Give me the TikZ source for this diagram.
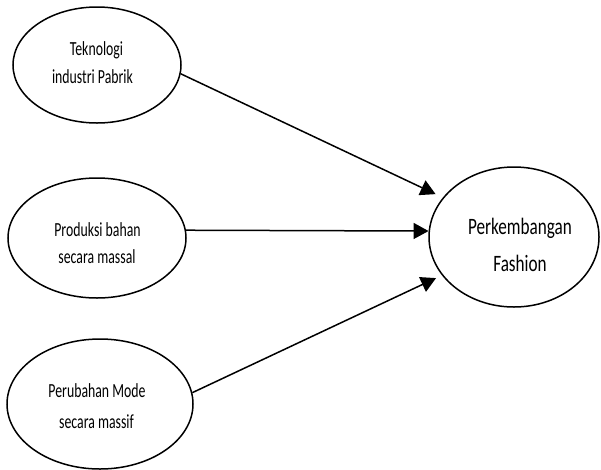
\documentclass[tikz,border=0pt]{standalone}
\usepackage{fontspec}
\setmainfont{Carlito}
\usetikzlibrary{arrows.meta,shapes.geometric}
% condensed lettering
\newcommand{\narrowsmall}[1]{\scalebox{0.69}[1]{#1}}
\newcommand{\narrowbig}[1]{\scalebox{0.73}[1]{#1}}
\begin{document}
\begin{tikzpicture}[x=1pt,y=-1pt,
  bubble/.style={draw=black,line width=1.5pt,ellipse,inner sep=0pt},
  small/.style={font=\fontsize{20}{24}\selectfont,anchor=base,inner sep=0pt},
  big/.style={font=\fontsize{23.5}{28}\selectfont,anchor=base,inner sep=0pt},
  link/.style={line width=1.5pt,-{Triangle[length=15pt,width=16pt]}}]
\useasboundingbox[fill=white] (0,0) rectangle (601,469);

% factor ellipses on the left, outcome ellipse on the right
\node[bubble,minimum width=168pt,minimum height=116pt] (e1) at (97,65) {};
\node[bubble,minimum width=178pt,minimum height=120pt] (e2) at (97,238) {};
\node[bubble,minimum width=186pt,minimum height=130pt] (e3) at (100,404) {};
\node[bubble,minimum width=170pt,minimum height=140pt] (e4) at (514,237) {};

% labels
\node[small] (l1a) at (96.5,55.5) {\narrowsmall{Teknologi}};
\node[small] (l1b) at (92.5,83.5) {\narrowsmall{industri Pabrik}};
\node[small] (l2a) at (97.5,236.5) {\narrowsmall{Produksi bahan}};
\node[small] (l2b) at (97,263) {\narrowsmall{secara massal}};
\node[small] (l3a) at (97,397) {\narrowsmall{Perubahan Mode}};
\node[small] (l3b) at (96.5,428) {\narrowsmall{secara massif}};
\node[big] (l4a) at (520,234.5) {\narrowbig{Perkembangan}};
\node[big] (l4b) at (520,271) {\narrowbig{Fashion}};

% influence arrows
\draw[link,shorten >=8pt] (e1.-6) -- (e4.151.4);
\draw[link] (e2.5) -- (e4.176);
\draw[link,shorten >=6.5pt] (e3.7.4) -- (e4.-152.5);
\end{tikzpicture}
\end{document}
